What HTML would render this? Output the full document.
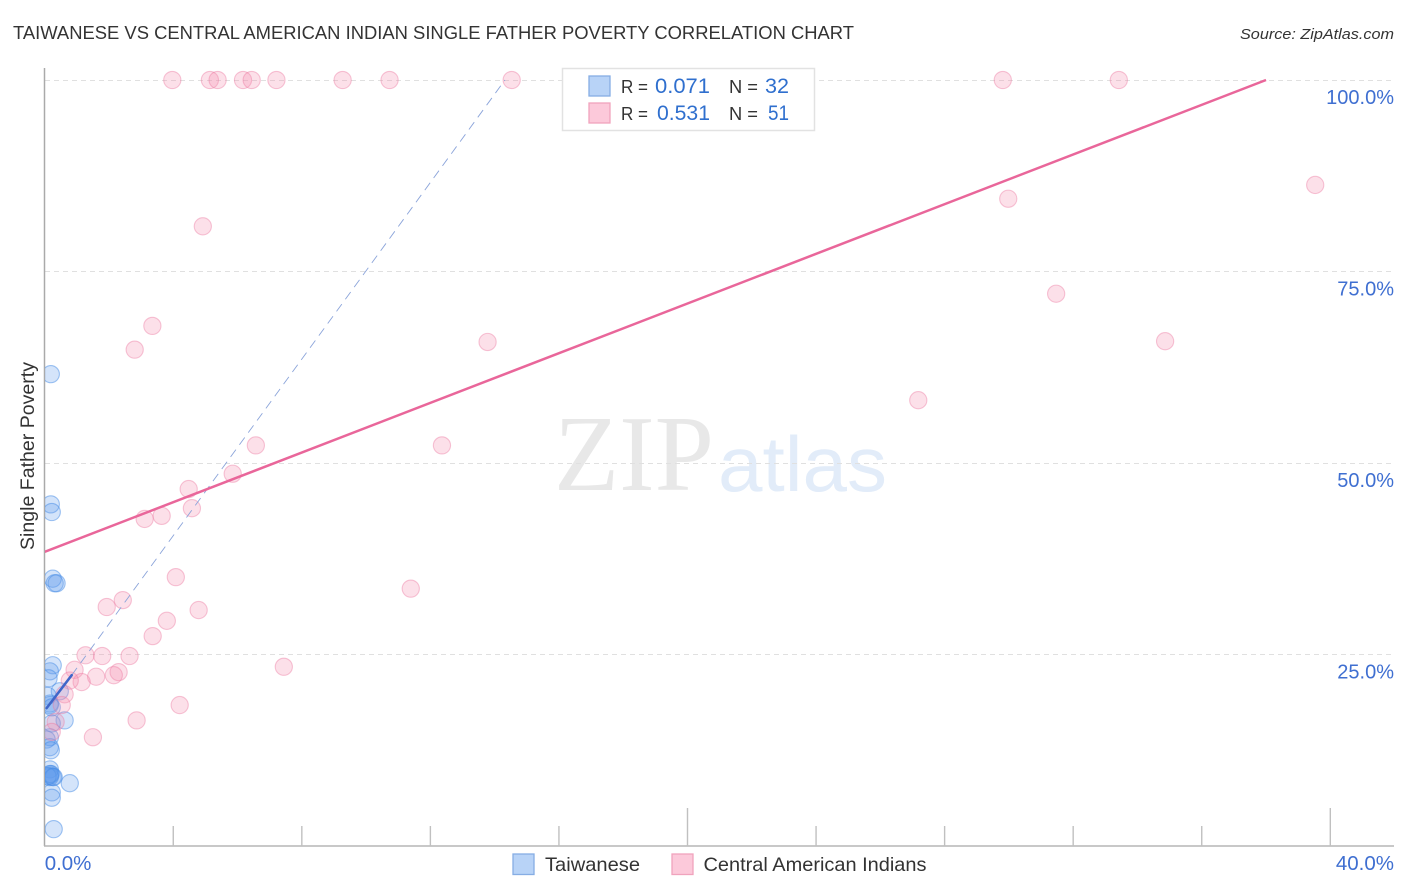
<!DOCTYPE html>
<html lang="en">
<head>
<meta charset="utf-8">
<title>Taiwanese vs Central American Indian Single Father Poverty Correlation Chart</title>
<style>
html,body{margin:0;padding:0;background:#fff;}
svg{display:block;font-family:"Liberation Sans",sans-serif;}
</style>
</head>
<body>
<svg id="chart" xmlns="http://www.w3.org/2000/svg" width="1406" height="892" viewBox="0 0 1406 892">
  <defs><clipPath id="plot-clip"><rect x="45" y="60" width="1349" height="786"></rect></clipPath></defs>
  <rect width="1406" height="892" fill="#fff"></rect>
  <text x="13" y="39" font-size="18.5" fill="#333" textLength="841" lengthAdjust="spacingAndGlyphs">TAIWANESE VS CENTRAL AMERICAN INDIAN SINGLE FATHER POVERTY CORRELATION CHART</text>
  <text x="1394" y="39" font-size="15" font-style="italic" fill="#333" text-anchor="end" textLength="154" lengthAdjust="spacingAndGlyphs">Source: ZipAtlas.com</text>
  <g id="watermark">
    <text x="554" y="490" font-family="'Liberation Serif',serif" font-size="108" fill="#e8e8e8" textLength="160" lengthAdjust="spacingAndGlyphs">ZIP</text>
    <text x="718" y="491" font-size="78" fill="#e2ecf9" textLength="169" lengthAdjust="spacingAndGlyphs">atlas</text>
  </g>
  <g id="grid"></g>
  <g id="axes"></g>
  <g id="points-blue" clip-path="url(#plot-clip)"></g>
  <g id="points-pink" clip-path="url(#plot-clip)"></g>
  <g id="trends" clip-path="url(#plot-clip)"></g>
  <g id="tick-labels"></g>
  <text transform="translate(34,456) rotate(-90)" font-size="19" fill="#333" text-anchor="middle" textLength="188" lengthAdjust="spacingAndGlyphs">Single Father Poverty</text>

  <g>
    <rect x="562.5" y="68.5" width="252" height="62" fill="#fff" stroke="#e2e2e2" stroke-width="1.5"></rect>
    <rect x="589" y="76" width="21" height="20" fill="#b8d3f7" stroke="#86ade4" stroke-width="1.3"></rect>
    <rect x="589" y="103" width="21" height="20" fill="#fcc9da" stroke="#f0a3bd" stroke-width="1.3"></rect>
    <text x="621" y="93" font-size="18" fill="#333" textLength="27" lengthAdjust="spacingAndGlyphs">R =</text>
    <text x="655" y="93" font-size="21" fill="#2f6fce" textLength="55" lengthAdjust="spacingAndGlyphs">0.071</text>
    <text x="729" y="93" font-size="18" fill="#333" textLength="29" lengthAdjust="spacingAndGlyphs">N =</text>
    <text x="765" y="93" font-size="21" fill="#2f6fce" textLength="24" lengthAdjust="spacingAndGlyphs">32</text>
    <text x="621" y="120" font-size="18" fill="#333" textLength="27" lengthAdjust="spacingAndGlyphs">R =</text>
    <text x="657" y="120" font-size="21" fill="#2f6fce" textLength="53" lengthAdjust="spacingAndGlyphs">0.531</text>
    <text x="729" y="120" font-size="18" fill="#333" textLength="29" lengthAdjust="spacingAndGlyphs">N =</text>
    <text x="768" y="120" font-size="21" fill="#2f6fce" textLength="21" lengthAdjust="spacingAndGlyphs">51</text>
  </g>

  <g>
    <rect x="513" y="854" width="21" height="20.5" fill="#b8d3f7" stroke="#86ade4" stroke-width="1.3"></rect>
    <text x="545" y="871" font-size="19.5" fill="#333" textLength="95" lengthAdjust="spacingAndGlyphs">Taiwanese</text>
    <rect x="672" y="854" width="21" height="20.5" fill="#fcc9da" stroke="#f0a3bd" stroke-width="1.3"></rect>
    <text x="703.5" y="871" font-size="19.5" fill="#333" textLength="223" lengthAdjust="spacingAndGlyphs">Central American Indians</text>
  </g>
</svg>
<script>
// Percent values
const taiwaneseX = [0.19,0.19,0.22,0.25,0.31,0.37,0.25,0.16,0.12,0.47,0.09,0.16,0.16,0.22,0.62,0.22,0.16,0.06,0.16,0.19,0.16,0.19,0.16,0.16,0.16,0.28,0.09,0.78,0.22,0.22,0.28,0.25];
const taiwaneseY = [61.6,44.6,43.6,34.9,34.3,34.3,23.6,22.8,21.9,20.2,19.6,18.6,18.4,18.1,16.4,16.0,14.2,13.9,12.9,12.5,10.0,9.4,9.4,9.2,9.0,9.0,9.1,8.2,7.0,6.3,2.2,9.0];
const centralX = [3.97,5.14,5.38,6.17,6.44,7.21,9.27,10.73,14.53,29.81,33.42,39.53,29.98,4.92,31.47,3.35,34.86,13.78,2.8,27.18,6.57,12.36,5.85,4.48,4.58,3.64,3.11,4.08,11.39,2.43,1.93,4.79,3.8,3.36,1.27,1.79,2.64,0.93,2.3,2.15,1.6,1.15,0.78,0.62,7.44,4.2,0.53,2.86,1.5,0.34,0.22];
const centralY = [100,100,100,100,100,100,100,100,100,100,100,86.3,84.5,80.9,72.1,67.9,65.9,65.8,64.8,58.2,52.3,52.3,48.6,46.6,44.1,43.1,42.7,35.1,33.6,32.1,31.2,30.8,29.4,27.4,24.9,24.8,24.8,23.0,22.7,22.3,22.1,21.4,21.6,19.8,23.4,18.4,18.4,16.4,14.2,16.2,14.9];
const centralTrendX = [0,38];
const centralTrendY = [38.4,100];
const taiwaneseTrendX = [0.06,0.84];
const taiwaneseTrendY = [18.0,22.3];
const taiwaneseDashX = [0.84,14.32];
const taiwaneseDashY = [22.3,100];
const xTicks = [4,8,12,16,20,24,28,32,36,40];
const xMajorTicks = [20,40];
const yTicks = [100,75,50,25];
const yTickLabels = ['100.0%','75.0%','50.0%','25.0%'];
const xEndValues = [0,40];
const xEndLabels = ['0.0%','40.0%'];

const NS = 'http://www.w3.org/2000/svg';
const xScale = v => 44.7 + v * 32.14;
const yScale = v => 846 - v * 7.66;

function make(tag, attrs, parent) {
  const el = document.createElementNS(NS, tag);
  for (const k in attrs) el.setAttribute(k, attrs[k]);
  parent.appendChild(el);
  return el;
}

const gridG = document.getElementById('grid');
const axesG = document.getElementById('axes');
const labelG = document.getElementById('tick-labels');

yTicks.forEach((v, i) => {
  const y = Math.floor(yScale(v)) + 0.5;
  const line = make('line', {x1: 45, x2: 1394, y1: y, y2: y, stroke: '#e0e0e0', 'stroke-width': 1, 'stroke-dasharray': '5 4'}, gridG);
  
  
  const label = make('text', {x: 1394, y: yScale(v) + 24, 'font-size': 20, fill: '#3f6fd1', 'text-anchor': 'end'}, labelG);
  label.textContent = yTickLabels[i];
  
  
});

const yAxis = make('line', {x1: 44.5, x2: 44.5, y1: 68, y2: 846, stroke: '#aaa', 'stroke-width': 1.5}, axesG);


const xAxis = make('line', {x1: 44, x2: 1394, y1: 846, y2: 846, stroke: '#b5b5b5', 'stroke-width': 1.5}, axesG);



xTicks.forEach(v => {
  const x = xScale(v);
  const top = xMajorTicks.includes(v) ? 808 : 826;
  const tick = make('line', {x1: x, x2: x, y1: top, y2: 846, stroke: '#c0c0c0', 'stroke-width': 1.4}, axesG);
  
  
});

xEndValues.forEach((v, i) => {
  const isFirst = i === 0;
  const label = make('text', {x: isFirst ? xScale(v) : 1394, y: 870, 'font-size': 20.5, fill: '#3f6fd1', 'text-anchor': isFirst ? 'start' : 'end'}, labelG);
  label.textContent = xEndLabels[i];
  
  
});

const blueG = document.getElementById('points-blue');
taiwaneseX.forEach((v, i) => {
  const c = make('circle', {cx: xScale(v), cy: yScale(taiwaneseY[i]), r: 8.6, fill: 'rgba(95,155,235,0.27)', stroke: 'rgba(70,140,230,0.5)', 'stroke-width': 1.1}, blueG);
  
  
});

const pinkG = document.getElementById('points-pink');
centralX.forEach((v, i) => {
  const c = make('circle', {cx: xScale(v), cy: yScale(centralY[i]), r: 8.6, fill: 'rgba(245,140,175,0.27)', stroke: 'rgba(235,120,160,0.42)', 'stroke-width': 1.1}, pinkG);
  
  
});

const trendG = document.getElementById('trends');
const dash = make('line', {x1: xScale(taiwaneseDashX[0]), y1: yScale(taiwaneseDashY[0]), x2: xScale(taiwaneseDashX[1]), y2: yScale(taiwaneseDashY[1]), stroke: '#8ba4da', 'stroke-width': 0.9, 'stroke-dasharray': '9 6'}, trendG);


const blueTrend = make('line', {x1: xScale(taiwaneseTrendX[0]), y1: yScale(taiwaneseTrendY[0]), x2: xScale(taiwaneseTrendX[1]), y2: yScale(taiwaneseTrendY[1]), stroke: '#3f66c9', 'stroke-width': 2.5, 'stroke-linecap': 'round'}, trendG);


const pinkTrend = make('line', {x1: xScale(centralTrendX[0]), y1: yScale(centralTrendY[0]), x2: xScale(centralTrendX[1]), y2: yScale(centralTrendY[1]), stroke: '#e9669a', 'stroke-width': 2.5}, trendG);


</script>
</body>
</html>
